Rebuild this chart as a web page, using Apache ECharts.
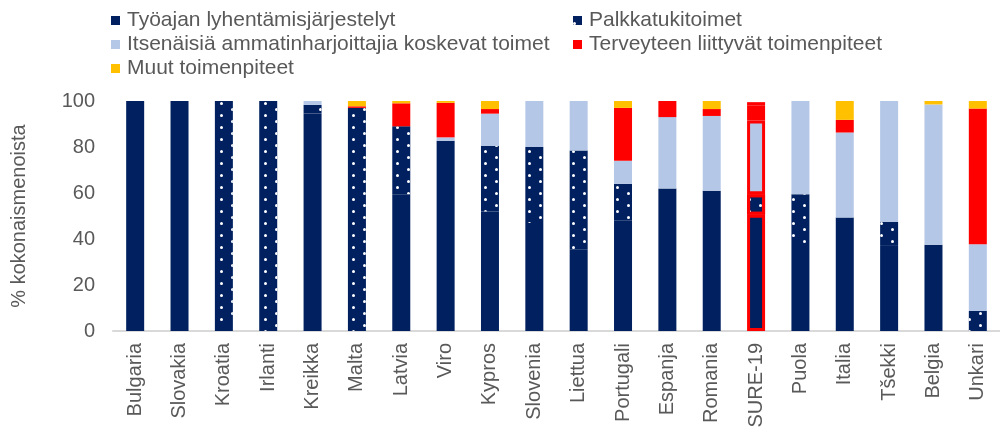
<!DOCTYPE html>
<html>
<head>
<meta charset="utf-8">
<script src="https://cdn.jsdelivr.net/npm/echarts@6/dist/echarts.min.js"></script>
<style>
  html, body { margin: 0; padding: 0; background: #fff; }
  #chart { width: 1000px; height: 432px; }
</style>
</head>
<body>
<div id="chart"></div>
<script>
// maat ja osuudet (% kokonaismenoista)
const countries = ['Bulgaria', 'Slovakia', 'Kroatia', 'Irlanti', 'Kreikka', 'Malta', 'Latvia', 'Viro', 'Kypros', 'Slovenia',
    'Liettua', 'Portugali', 'Espanja', 'Romania', 'SURE-19', 'Puola', 'Italia', 'Tšekki', 'Belgia', 'Unkari'];
const tyoaika   = [100, 100, 3.5, 0, 94.5, 0, 59.5, 82.7, 52, 47, 35.5, 48, 62, 61, 50.5, 37, 49.3, 37, 37.5, 0];
const palkkatuki = [0, 0, 96.5, 100, 3.8, 97, 29.5, 0, 28.5, 33, 43, 16, 0, 0, 9, 22.5, 0, 10.5, 0, 8.7];
const itsenaiset = [0, 0, 0, 0, 1.7, 0, 0, 1.5, 14, 20, 21.5, 10, 31, 32.5, 32, 40.5, 37, 52.5, 61, 29];
const terveys   = [0, 0, 0, 0, 0, 0.7, 10, 15, 2, 0, 0, 23, 7, 3, 6.5, 0, 5.5, 0, 0, 59];
const muut      = [0, 0, 0, 0, 0, 2.3, 1, 0.8, 3.5, 0, 0, 3, 0, 3.5, 1.5, 0, 8.2, 0, 1.5, 3.3];
const yTicks = [0, 20, 40, 60, 80, 100];

const FONT = 'Liberation Sans, Arial, sans-serif';
const TEXT = '#595959';
const highlight = 'SURE-19';

// SURE-19 saa punaisen reunuksen
function toData(arr) {
    return arr.map((v, i) => {
        if (countries[i] === highlight) {
            return { value: v, itemStyle: { borderColor: '#FF0000', borderWidth: 3 } };
        }
        return v === 0 ? '-' : v;
    });
}

function makeSeries(name, arr, color, decal) {
    const s = {
        name: name,
        type: 'bar',
        stack: 'total',
        barWidth: 18,
        data: toData(arr),
        itemStyle: { color: color },
        emphasis: { disabled: true }
    };
    if (decal) s.itemStyle.decal = decal;
    return s;
}

const chart = echarts.init(document.getElementById('chart'));

// valkoiset pisteet palkkatukitoimille
const dots = {
    symbol: 'circle',
    symbolSize: 1,
    color: '#ffffff',
    dashArrayX: [[2.5, 18.5], [0, 10.5, 2.5, 8]],
    dashArrayY: [2.5, 3]
};

const legendBase = {
    orient: 'vertical',
    icon: 'rect',
    itemWidth: 9,
    itemHeight: 9,
    itemGap: 3,
    selectedMode: false,
    textStyle: { fontFamily: FONT, fontSize: 21, color: TEXT, lineHeight: 21, padding: [0, 0, 0, 2] }
};

const option = {
    animation: false,
    backgroundColor: '#fff',
    textStyle: { fontFamily: FONT },
    legend: [
        Object.assign({}, legendBase, {
            left: 106, top: 5,
            data: ['Työajan lyhentämisjärjestelyt', 'Itsenäisiä ammatinharjoittajia koskevat toimet', 'Muut toimenpiteet']
        }),
        Object.assign({}, legendBase, {
            left: 568, top: 5,
            data: ['Palkkatukitoimet', 'Terveyteen liittyvät toimenpiteet']
        })
    ],
    grid: { left: 113, top: 101, width: 894, height: 230, containLabel: false },
    xAxis: {
        type: 'category',
        data: countries,
        axisLine: { lineStyle: { color: '#D9D9D9', width: 2 } },
        axisTick: { show: false },
        axisLabel: { rotate: 90, margin: 12, fontSize: 20, color: TEXT, fontFamily: FONT, interval: 0 }
    },
    yAxis: {
        type: 'value',
        min: yTicks[0],
        max: yTicks[yTicks.length - 1],
        interval: 20,
        name: '% kokonaismenoista',
        nameLocation: 'middle',
        nameGap: 84,
        nameTextStyle: { fontSize: 20, color: TEXT, fontFamily: FONT },
        axisLine: { show: false },
        axisTick: { show: false },
        splitLine: { show: false },
        axisLabel: { margin: 18, fontSize: 20, color: TEXT, fontFamily: FONT }
    },
    series: [
        makeSeries('Työajan lyhentämisjärjestelyt', tyoaika, '#002060'),
        makeSeries('Palkkatukitoimet', palkkatuki, '#002060', dots),
        makeSeries('Itsenäisiä ammatinharjoittajia koskevat toimet', itsenaiset, '#B4C7E7'),
        makeSeries('Terveyteen liittyvät toimenpiteet', terveys, '#FF0000'),
        makeSeries('Muut toimenpiteet', muut, '#FFC000')
    ]
};

chart.setOption(option);
</script>
</body>
</html>
